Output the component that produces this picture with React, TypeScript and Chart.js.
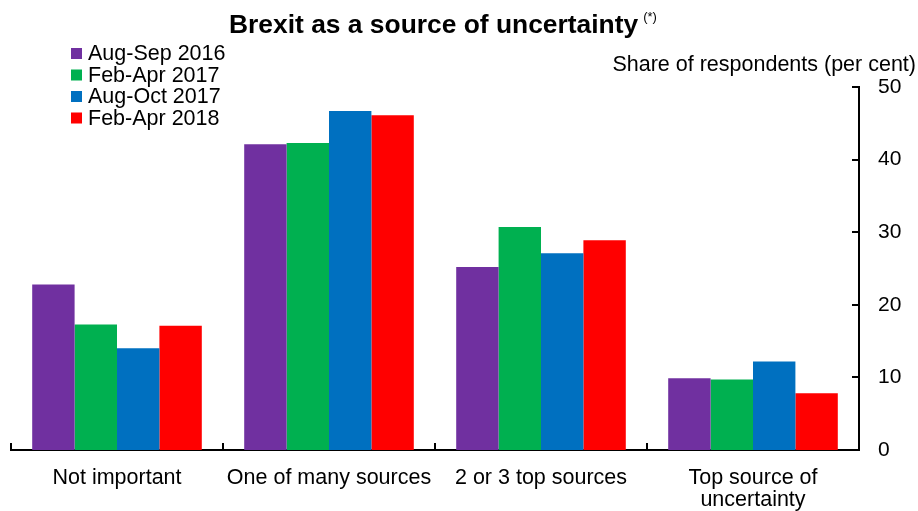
import React, { useEffect, useRef } from "react";
import { Chart, registerables } from "chart.js";
Chart.register(...registerables);

const categories: string[][] = [["Not important"], ["One of many sources"], ["2 or 3 top sources"], ["Top source of", "uncertainty"]];
const seriesLabels = ["Aug-Sep 2016", "Feb-Apr 2017", "Aug-Oct 2017", "Feb-Apr 2018"];
const seriesColors = ["#7030A0", "#00B050", "#0070C0", "#FF0000"];
const augSep2016 = [22.8, 42.1, 25.2, 9.9];
const febApr2017 = [17.3, 42.3, 30.7, 9.7];
const augOct2017 = [14.0, 46.7, 27.1, 12.2];
const febApr2018 = [17.1, 46.1, 28.9, 7.8];
const yMin = 0;
const yMax = 50;
const yStep = 10;
const titleText = "Brexit as a source of uncertainty";
const titleNote = "(*)";
const axisTitle = "Share of respondents (per cent)";

const FONT = "'Liberation Sans', Arial, sans-serif";

const overlay = {
  id: "overlay",
  afterDraw(chart: any) {
    const ctx = chart.ctx;
    const area = chart.chartArea;
    ctx.save();
    // title
    ctx.fillStyle = "#000";
    ctx.textBaseline = "alphabetic";
    ctx.textAlign = "left";
    ctx.font = `bold 26.4px ${FONT}`;
    const tw = ctx.measureText(titleText).width;
    const tx = 229;
    ctx.fillText(titleText, tx, 33);
    ctx.font = `13px ${FONT}`;
    ctx.fillText(titleNote, tx + tw + 5, 21);
    // legend
    ctx.font = `21.5px ${FONT}`;
    chart.data.datasets.forEach((ds: any, i: number) => {
      const y = 48 + i * 21.5;
      ctx.fillStyle = ds.backgroundColor;
      ctx.fillRect(71, y, 11, 11);
      ctx.fillStyle = "#000";
      ctx.fillText(ds.label, 88, y + 12);
    });
    // axis title
    ctx.textAlign = "right";
    ctx.fillText(axisTitle, 916, 71);
    // y ticks (inward)
    const ys = chart.scales.y;
    ctx.strokeStyle = "#000";
    ctx.lineWidth = 2;
    ctx.beginPath();
    ys.ticks.forEach((t: any) => {
      const py = Math.round(ys.getPixelForValue(t.value));
      ctx.moveTo(area.right - 7, py);
      ctx.lineTo(area.right, py);
    });
    // x category boundaries
    const xs = chart.scales.x;
    const n = chart.data.labels.length;
    const w = (area.right - area.left) / n;
    for (let i = 0; i < n; i++) {
      const px = Math.round(xs.getPixelForValue(i) - w / 2);
      ctx.moveTo(px, area.bottom);
      ctx.lineTo(px, area.bottom - 7);
    }
    ctx.stroke();
    ctx.restore();
  },
};

export default function App() {
  const ref = useRef<HTMLCanvasElement>(null);
  useEffect(() => {
    const seriesValues = [augSep2016, febApr2017, augOct2017, febApr2018];
    const chart = new Chart(ref.current!, {
      type: "bar",
      data: {
        labels: categories,
        datasets: seriesLabels.map((label, i) => ({
          label,
          data: seriesValues[i],
          backgroundColor: seriesColors[i],
          borderWidth: 0,
          categoryPercentage: 0.8,
          barPercentage: 1.0,
        })),
      },
      options: {
        animation: false,
        responsive: true,
        maintainAspectRatio: false,
        layout: { padding: { left: 11, right: 0, top: 87, bottom: 0 } },
        plugins: { legend: { display: false }, title: { display: false }, tooltip: { enabled: false } },
        scales: {
          x: {
            grid: { display: false, drawTicks: false },
            border: { display: true, color: "#000", width: 2 },
            ticks: { color: "#000", font: { family: FONT, size: 21.5, lineHeight: 1.03 }, padding: 17, maxRotation: 0, autoSkip: false },
            afterFit: (s: any) => { s.height = 61; },
          },
          y: {
            position: "right",
            min: yMin,
            max: yMax,
            grid: { display: false, drawTicks: false },
            border: { display: true, color: "#000", width: 2 },
            ticks: { stepSize: yStep, color: "#000", font: { family: FONT, size: 21 }, padding: 19 },
            afterFit: (s: any) => { s.width = 59; },
          },
        },
      },
      plugins: [overlay],
    });
    return () => chart.destroy();
  }, []);
  return (
    <div style={{ position: "fixed", left: 0, top: 0, width: 918, height: 511, background: "#fff" }}>
      <canvas ref={ref} />
    </div>
  );
}
